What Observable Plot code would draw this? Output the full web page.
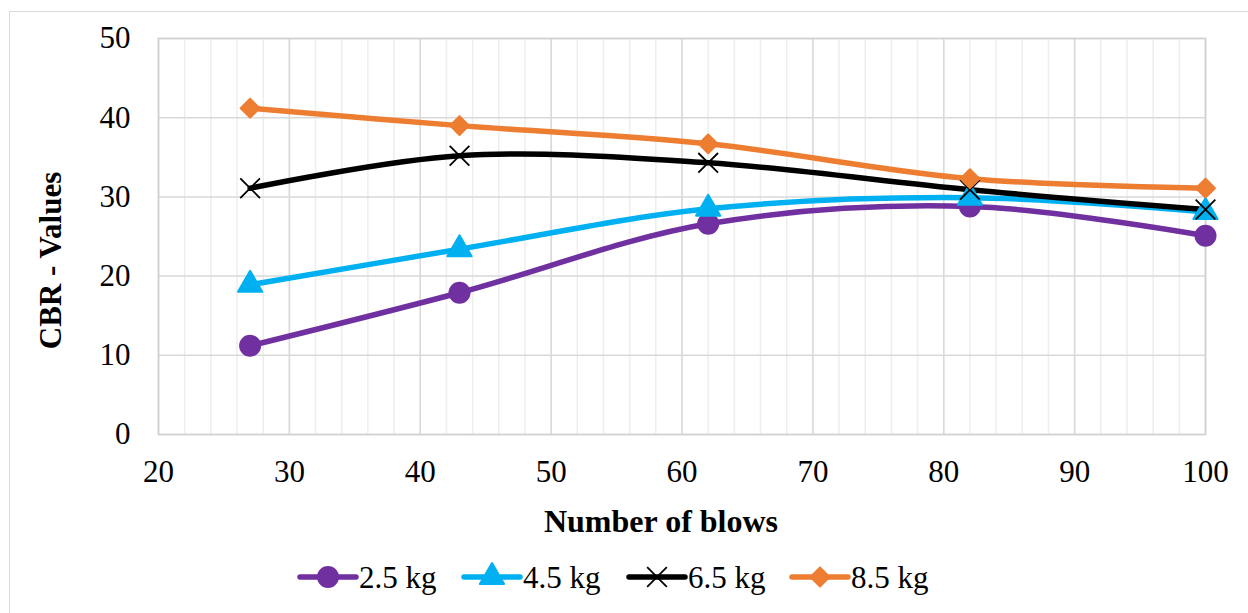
<!DOCTYPE html>
<html><head><meta charset="utf-8">
<script src="https://cdn.jsdelivr.net/npm/d3@7"></script>
<script src="https://cdn.jsdelivr.net/npm/@observablehq/plot@0.6"></script>
<style>
body{margin:0;background:#fff;width:1248px;height:613px;overflow:hidden;position:relative;font-family:"Liberation Serif","Times New Roman",serif;}
#frame{position:absolute;left:9px;top:11px;width:1400px;height:800px;border-left:1px solid #d9d9d9;border-top:1px solid #d9d9d9;}
#chart{position:absolute;left:0;top:0;}
#legend{position:absolute;left:0;top:557px;width:1248px;height:40px;}
</style></head>
<body>
<div id="frame"></div>
<div id="chart"></div>
<div id="legend"></div>
<script>
const blows = [27, 43, 62, 82, 100];
const seriesNames = ["2.5 kg", "4.5 kg", "6.5 kg", "8.5 kg"];
const cbr25 = [11.2, 17.9, 26.6, 28.8, 25.1];
const cbr45 = [18.9, 23.4, 28.5, 29.9, 28.1];
const cbr65 = [31.1, 35.2, 34.3, 30.9, 28.4];
const cbr85 = [41.2, 39.0, 36.7, 32.3, 31.1];
const xTicks = [20, 30, 40, 50, 60, 70, 80, 90, 100];
const yTicks = [0, 10, 20, 30, 40, 50];
const xMinor = [20, 22, 24, 26, 28, 30, 32, 34, 36, 38, 40, 42, 44, 46, 48, 50, 52, 54, 56, 58, 60, 62, 64, 66, 68, 70, 72, 74, 76, 78, 80, 82, 84, 86, 88, 90, 92, 94, 96, 98, 100];

const colors = ["#7030a0", "#00b0f0", "#000000", "#ed7d31"];
const symbols = ["circle", "triangle", "times", "diamond2"];
const radii = [10, 9, 9, 8.5];
const valuesList = [cbr25, cbr45, cbr65, cbr85];

const data = seriesNames.flatMap((name, s) => blows.map((b, i) => ({blows: b, cbr: valuesList[s][i], series: name})));

const dotMarks = seriesNames.map((name, s) => {
  const sub = data.filter(d => d.series === name);
  const isStroke = symbols[s] === "times";
  return Plot.dot(sub, {
    x: "blows", y: "cbr", symbol: () => symbols[s], r: radii[s],
    fill: isStroke ? "none" : colors[s],
    stroke: colors[s], strokeWidth: isStroke ? 1.8 : 2, strokeLinejoin: "round"
  });
});

const chart = Plot.plot({
  width: 1248, height: 545,
  marginLeft: 158, marginRight: 43, marginTop: 38, marginBottom: 111,
  style: {fontFamily: "'Liberation Serif','Times New Roman',serif", fontSize: "31px", color: "#000", background: "transparent", overflow: "visible"},
  x: {domain: [20, 100]},
  y: {domain: [0, 50]},
  symbol: {type: "identity"},
  marks: [
    Plot.gridX(xMinor, {stroke: "#eeeeee", strokeOpacity: 1, strokeWidth: 1.5}),
    Plot.gridX(xTicks, {stroke: "#d9d9d9", strokeOpacity: 1, strokeWidth: 1.5}),
    Plot.gridY(yTicks, {stroke: "#d9d9d9", strokeOpacity: 1, strokeWidth: 1.5}),
    Plot.frame({stroke: "#d0d0d0", strokeWidth: 1.5}),
    Plot.axisX(xTicks, {tickSize: 0, tickPadding: 25, label: null, fontSize: 31, tickFormat: d => String(d)}),
    Plot.axisY(yTicks, {tickSize: 0, tickPadding: 28, label: null, fontSize: 31, tickFormat: d => String(d)}),
    ...seriesNames.map((name, s) => Plot.line(data.filter(d => d.series === name), {
      x: "blows", y: "cbr", stroke: colors[s], strokeWidth: 5.5, curve: "catmull-rom"
    })),
    ...dotMarks,
    Plot.text(["Number of blows"], {frameAnchor: "bottom", dx: -21, dy: 97, fontWeight: "bold", fontSize: 32, text: d => d}),
    Plot.text(["CBR - Values"], {frameAnchor: "left", textAnchor: "middle", dx: -107, dy: 24, rotate: -90, fontWeight: "bold", fontSize: 31, text: d => d})
  ]
});
document.getElementById("chart").appendChild(chart);

// Legend
const legend = d3.select("#legend").append("svg").attr("width", 1248).attr("height", 40)
  .style("font-family", "'Liberation Serif','Times New Roman',serif");
const symMap = {circle: d3.symbolCircle, triangle: d3.symbolTriangle, times: d3.symbolTimes, diamond2: d3.symbolDiamond2};
const lineStarts = [300, 464, 629, 792];
seriesNames.forEach((name, s) => {
  const x0 = lineStarts[s], cy = 20;
  const g = legend.append("g");
  g.append("line").attr("x1", x0).attr("x2", x0 + 56).attr("y1", cy).attr("y2", cy)
    .attr("stroke", colors[s]).attr("stroke-width", 5.5).attr("stroke-linecap", "round");
  const isStroke = symbols[s] === "times";
  g.append("path").attr("d", d3.symbol(symMap[symbols[s]], Math.PI * radii[s] * radii[s])())
    .attr("transform", `translate(${x0 + 28},${cy})`)
    .attr("fill", isStroke ? "none" : colors[s]).attr("stroke", colors[s])
    .attr("stroke-width", isStroke ? 1.8 : 2).attr("stroke-linejoin", "round");
  g.append("text").attr("x", x0 + 59).attr("y", cy).attr("dy", "0.35em")
    .attr("font-size", 31).attr("fill", "#000").text(name);
});
</script>
</body></html>
